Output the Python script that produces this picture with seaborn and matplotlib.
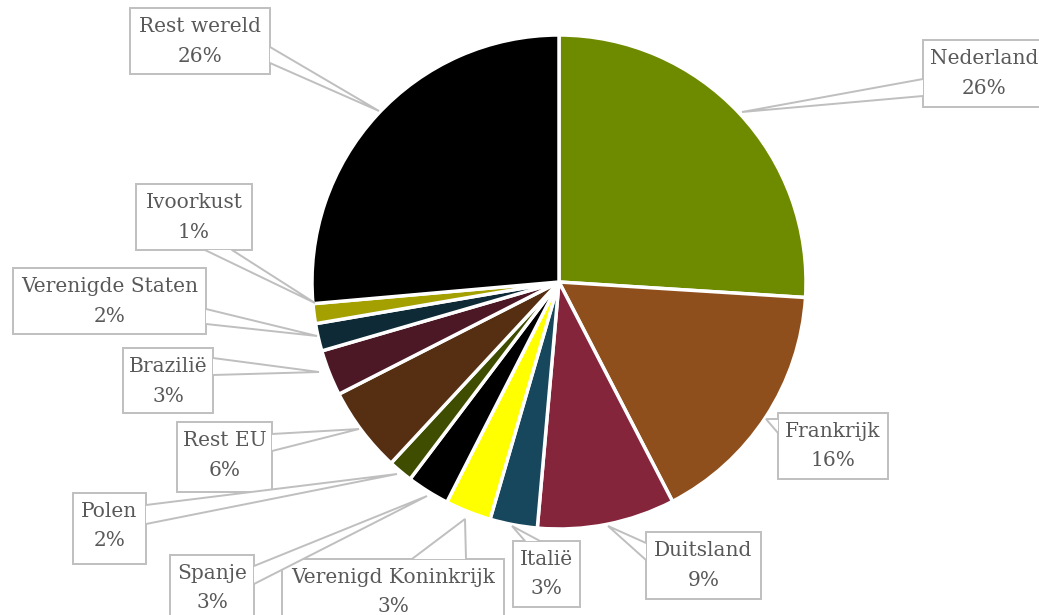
import matplotlib
matplotlib.use("Agg")
import matplotlib.pyplot as plt
import seaborn as sns
from matplotlib.patches import Rectangle, Polygon

sns.set_theme(style="white")
plt.rcParams['font.family'] = ['DejaVu Serif']

# data (clockwise from 12 o'clock)
landen = ['Nederland', 'Frankrijk', 'Duitsland', 'Italië', 'Verenigd Koninkrijk',
          'Spanje', 'Polen', 'Rest EU', 'Brazilië', 'Verenigde Staten',
          'Ivoorkust', 'Rest wereld']
aandeel = [26.0, 16.4, 9.0, 3.1, 3.0, 2.8, 1.6, 5.6, 3.0, 1.8, 1.3, 26.4]
kleuren = ['#6e8b00', '#8f4f1c', '#84253b', '#17475c', '#ffff00', '#000000',
           '#3f4d00', '#562e12', '#4c1826', '#0d2a36', '#a3a000', '#000000']

# callout layout in pixels: box (x0, x1, y0, y1), wedge base points, anchor
callouts = {
    'Rest wereld':         ((130, 270, 8, 74),    ((270, 47), (270, 63)),  (379, 111)),
    'Nederland':           ((923, 1045, 40, 107), ((923, 79), (923, 96)),  (742, 112)),
    'Frankrijk':           ((778, 888, 413, 479), ((778, 419), (778, 433)), (766, 419)),
    'Duitsland':           ((646, 761, 532, 599), ((646, 543), (646, 560)), (608, 526)),
    'Italië':              ((513, 580, 541, 607), ((525, 541), (540, 541)), (512, 526)),
    'Verenigd Koninkrijk': ((282, 504, 559, 625), ((412, 559), (466, 559)), (465, 519)),
    'Spanje':              ((170, 254, 555, 621), ((254, 566), (254, 584)), (427, 496)),
    'Polen':               ((73, 146, 493, 564),  ((146, 505), (146, 524)), (397, 474)),
    'Rest EU':             ((177, 272, 422, 492), ((272, 434), (272, 451)), (359, 429)),
    'Brazilië':            ((123, 213, 348, 413), ((213, 358), (213, 375)), (319, 372)),
    'Verenigde Staten':    ((13, 206, 268, 334),  ((206, 309), (206, 324)), (317, 336)),
    'Ivoorkust':           ((136, 252, 184, 250), ((205, 250), (232, 250)), (315, 303)),
}

W, H = 1039, 615
fig = plt.figure(figsize=(W / 100, H / 100), dpi=100)
ax = fig.add_axes([0, 0, 1, 1])

ax.pie(aandeel, colors=sns.color_palette(kleuren), startangle=90, counterclock=False,
       center=(559, H - 282), radius=247,
       wedgeprops=dict(edgecolor='white', linewidth=2.5))

ax.set_xlim(0, W)
ax.set_ylim(0, H)
ax.set_aspect('equal')
ax.axis('off')

rand = '#bfbfbf'
tekst = '#595959'
for naam, waarde in zip(landen, aandeel):
    (x0, x1, y0, y1), (b1, b2), anker = callouts[naam]
    ax.add_patch(Rectangle((x0, H - y1), x1 - x0, y1 - y0, facecolor='white',
                           edgecolor=rand, linewidth=1.4, zorder=5, clip_on=True))
    pts = [(b1[0], H - b1[1]), (anker[0], H - anker[1]), (b2[0], H - b2[1])]
    ax.add_patch(Polygon(pts, closed=True, facecolor='white', edgecolor='none', zorder=6))
    ax.plot([pts[0][0], pts[1][0], pts[2][0]], [pts[0][1], pts[1][1], pts[2][1]],
            color=rand, linewidth=1.4, zorder=7, solid_joinstyle='miter')
    cx = (x0 + x1) / 2 if naam != 'Nederland' else 984
    cy = y0 + 33
    ax.text(cx, H - (cy - 14.5), naam, ha='center', va='center', fontsize=14.5,
            color=tekst, zorder=8)
    ax.text(cx, H - (cy + 15), f"{waarde:.0f}%", ha='center', va='center', fontsize=14.5,
            color=tekst, zorder=8)

fig.savefig('out.png', dpi=100)
